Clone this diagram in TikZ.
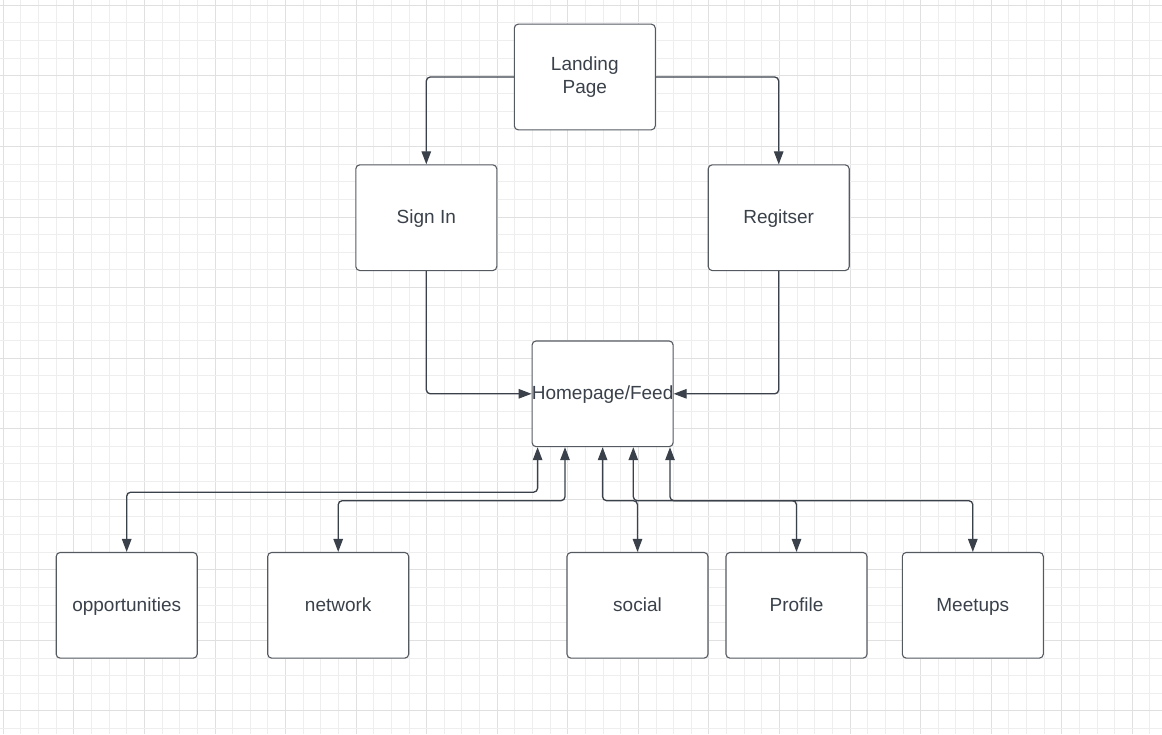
\documentclass[tikz,border=0pt]{standalone}
\usepackage{fontspec}
\setmainfont{Liberation Sans}
\usetikzlibrary{arrows.meta,calc}

\definecolor{gridminor}{HTML}{EEEEEE}
\definecolor{gridmajor}{HTML}{E0E0E0}
\definecolor{ink}{HTML}{3A414A}
\definecolor{boxline}{HTML}{555A61}

\tikzset{
  box/.style={draw=boxline, line width=1.1pt, fill=white, rounded corners=4pt,
    minimum width=141pt, minimum height=105.7pt, inner sep=0pt,
    text height=15.5pt, text depth=4pt,
    text=ink, align=center, font=\fontsize{19}{23.5}\selectfont},
  link/.style={draw=ink, line width=1.3pt, rounded corners=4pt, -{Triangle[length=13pt,width=9.5pt]}},
  twoway/.style={draw=ink, line width=1.3pt, rounded corners=4pt,
    {Triangle[length=13pt,width=9.5pt]}-{Triangle[length=13pt,width=9.5pt]}}
}

\begin{document}
\begin{tikzpicture}[x=1pt,y=-1pt]
  \useasboundingbox (0,0) rectangle (1162,734);
  \fill[white] (0,0) rectangle (1162,734);

  % background grid: fine lines, with every fourth one a little darker
  \foreach \k in {0,...,65} {
    \pgfmathsetmacro{\gx}{3.3+17.64*\k}
    \pgfmathtruncatemacro{\m}{mod(\k,4)}
    \ifnum\m=0
      \draw[gridmajor, line width=0.9pt] (\gx,0) -- (\gx,734);
    \else
      \draw[gridminor, line width=0.9pt] (\gx,0) -- (\gx,734);
    \fi
  }
  \foreach \k in {0,...,41} {
    \pgfmathsetmacro{\gy}{5.3+17.64*\k}
    \pgfmathtruncatemacro{\m}{mod(\k,4)}
    \ifnum\m=0
      \draw[gridmajor, line width=0.9pt] (0,\gy) -- (1162,\gy);
    \else
      \draw[gridminor, line width=0.9pt] (0,\gy) -- (1162,\gy);
    \fi
  }

  % pages
  \node[box, text height=, text depth=] (landing) at (584.8,77.0) {Landing\\Page};
  \node[box] (signin)   at (426.3,217.7) {Sign In};
  \node[box] (register) at (778.7,217.7) {Regitser};
  \node[box] (home)     at (602.6,393.8) {\makebox[0pt]{Homepage/Feed}};
  \node[box] (opp)      at (126.7,605.3) {opportunities};
  \node[box] (net)      at (338.2,605.3) {network};
  \node[box] (social)   at (637.5,605.3) {social};
  \node[box] (profile)  at (796.5,605.3) {Profile};
  \node[box] (meetups)  at (972.8,605.3) {Meetups};

  % entry flow
  \draw[link] (landing.west) -| (signin.north);
  \draw[link] (landing.east) -| (register.north);
  \draw[link] (signin.south) |- (home.west);
  \draw[link] (register.south) |- (home.east);

  % feed sections, linked both ways
  \draw[twoway] ($(home.south)+(-65,0)$) -- ++(0,45) -| (opp.north);
  \draw[twoway] ($(home.south)+(-37.6,0)$) -- ++(0,53.5) -| (net.north);
  \draw[twoway] (home.south) -- ++(0,53.5) -| (social.north);
  \draw[twoway] ($(home.south)+(30.7,0)$) -- ++(0,53.5) -| (profile.north);
  \draw[twoway] ($(home.south)+(67.4,0)$) -- ++(0,53.5) -| (meetups.north);
\end{tikzpicture}
\end{document}
